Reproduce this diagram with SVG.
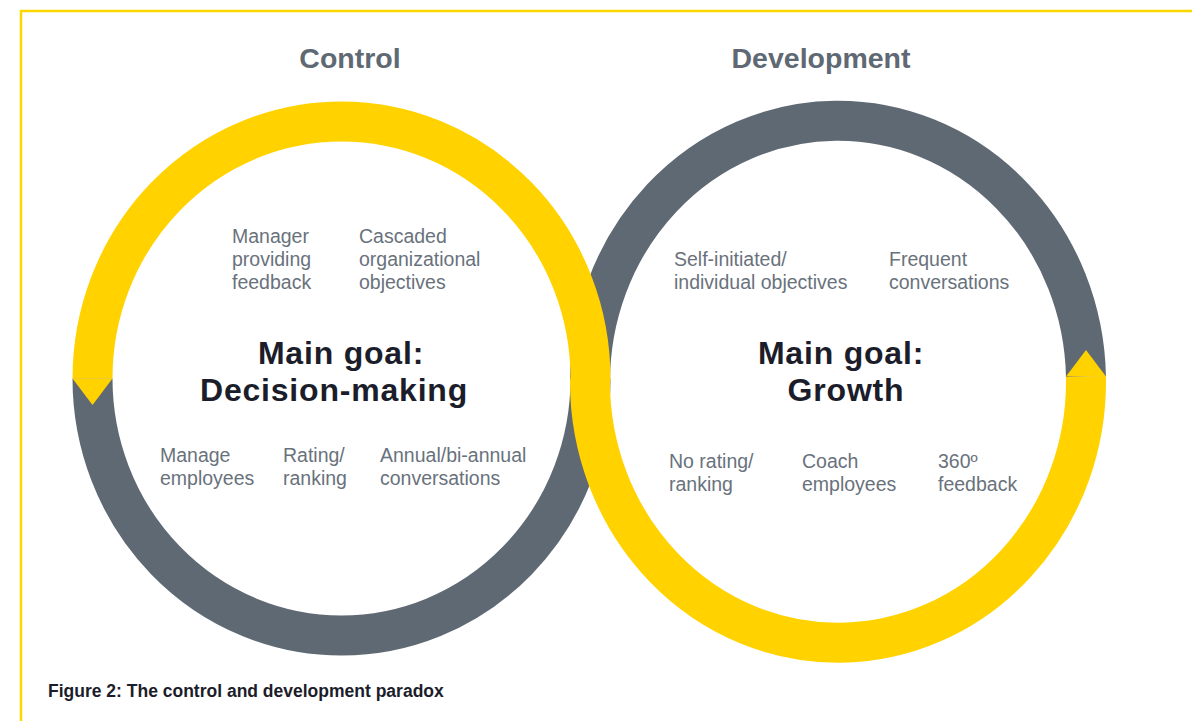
<svg xmlns="http://www.w3.org/2000/svg" width="1192" height="721" viewBox="0 0 1192 721">
  <style>
    .band { fill: none; stroke-width: 40; stroke-linecap: butt; }
    .gray { stroke: #5f6973; }
    .yellow { stroke: #ffd200; }
    .tip { fill: #ffd200; }
    .title { font-family: "Liberation Sans", Arial, sans-serif; font-weight: bold; font-size: 28.5px; fill: #5f6973; text-anchor: middle; }
    .goal { font-family: "Liberation Sans", Arial, sans-serif; font-weight: bold; font-size: 32px; letter-spacing: 0.8px; fill: #1c1d2a; text-anchor: middle; }
    .item { font-family: "Liberation Sans", Arial, sans-serif; font-size: 19.5px; fill: #69727c; }
    .caption { font-family: "Liberation Sans", Arial, sans-serif; font-weight: bold; font-size: 17.5px; fill: #1c1d2a; }
  </style>

  <rect x="0" y="0" width="1192" height="721" fill="#ffffff"/>

  <!-- frame -->
  <g id="frame" stroke="#ffd700" stroke-width="2.5" fill="none">
    <line x1="20" y1="11" x2="1192" y2="11"/>
    <line x1="21" y1="10" x2="21" y2="721"/>
  </g>

  <!-- the figure-eight bands -->
  <g id="connectors">
    <path id="gray-band" class="band gray" d="M 92.5 378.5 A 249 257 0 0 0 590.5 378.5 L 590 382 A 248 261 0 0 1 1085.95 376.5"/>
    <path id="yellow-band" class="band yellow" d="M 92.5 378.5 A 249 257 0 0 1 590.5 378.5 L 590 382 A 248 261 0 1 0 1085.95 376.5"/>
    <polygon class="tip" points="72.5,378.5 112.5,378.5 92.5,405"/>
    <polygon class="tip" points="1066,376.5 1106,376.5 1086,350"/>
  </g>

  <!-- Control loop -->
  <g id="control">
    <text class="title" x="350" y="68">Control</text>
    <text class="goal" x="341" y="364">Main goal:</text>
    <text class="goal" x="334" y="401">Decision-making</text>
  </g>
  <g id="control-feedback">
    <text class="item" x="232" y="243">Manager</text>
    <text class="item" x="232" y="266">providing</text>
    <text class="item" x="232" y="289">feedback</text>
  </g>
  <g id="control-objectives">
    <text class="item" x="359" y="243">Cascaded</text>
    <text class="item" x="359" y="266">organizational</text>
    <text class="item" x="359" y="289">objectives</text>
  </g>
  <g id="control-manage">
    <text class="item" x="160" y="462">Manage</text>
    <text class="item" x="160" y="485">employees</text>
  </g>
  <g id="control-rating">
    <text class="item" x="283" y="462">Rating/</text>
    <text class="item" x="283" y="485">ranking</text>
  </g>
  <g id="control-conversations">
    <text class="item" x="380" y="462">Annual/bi-annual</text>
    <text class="item" x="380" y="485">conversations</text>
  </g>

  <!-- Development loop -->
  <g id="development">
    <text class="title" x="821" y="68">Development</text>
    <text class="goal" x="841" y="364">Main goal:</text>
    <text class="goal" x="846" y="401">Growth</text>
  </g>
  <g id="development-objectives">
    <text class="item" x="674" y="266">Self-initiated/</text>
    <text class="item" x="674" y="289">individual objectives</text>
  </g>
  <g id="development-conversations">
    <text class="item" x="889" y="266">Frequent</text>
    <text class="item" x="889" y="289">conversations</text>
  </g>
  <g id="development-rating">
    <text class="item" x="669" y="468">No rating/</text>
    <text class="item" x="669" y="491">ranking</text>
  </g>
  <g id="development-coach">
    <text class="item" x="802" y="468">Coach</text>
    <text class="item" x="802" y="491">employees</text>
  </g>
  <g id="development-360">
    <text class="item" x="938" y="468">360º</text>
    <text class="item" x="938" y="491">feedback</text>
  </g>

  <g id="caption">
    <text class="caption" x="48" y="697">Figure 2: The control and development paradox</text>
  </g>
</svg>
